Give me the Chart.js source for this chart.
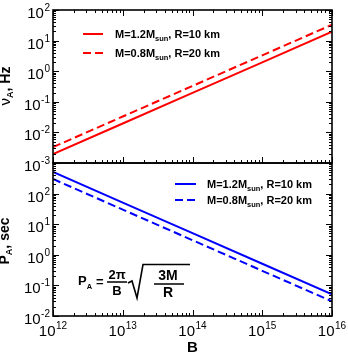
<!DOCTYPE html>
<html>
<head>
<meta charset="utf-8">
<script src="https://cdn.jsdelivr.net/npm/chart.js@4.4.0/dist/chart.umd.min.js"></script>
<style>
  html, body { margin: 0; padding: 0; background: #fff; }
  #wrap { position: relative; width: 348px; height: 354px; overflow: hidden; }
  canvas { position: absolute; left: 0; }
  #nuChart { top: 0; }
  #periodChart { top: 150px; }
</style>
</head>
<body>
<div id="wrap">
  <canvas id="nuChart" width="348" height="180"></canvas>
  <canvas id="periodChart" width="348" height="204"></canvas>
</div>
<script>
// --- data ---
const fieldB = [1e12, 1e13, 1e14, 1e15, 1e16];
const nuHeavy = [1.95e-3, 1.95e-2, 0.195, 1.95, 19.5];   // M=1.2 Msun, R=10 km
const nuLight = [3.3e-3, 3.3e-2, 0.33, 3.3, 33];         // M=0.8 Msun, R=20 km
const periodHeavy = [510, 51, 5.1, 0.51, 0.051];
const periodLight = [300, 30, 3.0, 0.30, 0.030];
const seriesLabels = ['M=1.2M_sun, R=10 km', 'M=0.8M_sun, R=20 km'];
const xTickExps = [12, 13, 14, 15, 16];
const nuTickExps = [-3, -2, -1, 0, 1, 2];
const periodTickExps = [-2, -1, 0, 1, 2];

const FONT = '"Liberation Sans", Arial, Helvetica, sans-serif';

// draw a run of text pieces, each {t, size, bold, dy}
function drawRich(ctx, parts, x, y) {
  let cx = x;
  for (const p of parts) {
    ctx.font = (p.bold ? 'bold ' : '') + p.size + 'px ' + FONT;
    ctx.fillText(p.t, cx, y + (p.dy || 0));
    cx += ctx.measureText(p.t).width + (p.gap || 0);
  }
  return cx - x;
}
function richWidth(ctx, parts) {
  let w = 0;
  for (const p of parts) {
    ctx.font = (p.bold ? 'bold ' : '') + p.size + 'px ' + FONT;
    w += ctx.measureText(p.t).width + (p.gap || 0);
  }
  return w;
}
function powParts(e) {
  return [{ t: '10', size: 15, gap: 0.5 }, { t: String(e), size: 10, dy: -7 }];
}
function labelParts(label, size) {
  const m = label.match(/^(.*)_(\w+)(.*)$/);
  return [
    { t: m[1], size: size, bold: true },
    { t: m[2], size: size * 0.68, bold: true, dy: 3 },
    { t: m[3], size: size, bold: true }
  ];
}

const axesPlugin = {
  id: 'panelAxes',
  afterDraw(chart, args, opts) {
    const ctx = chart.ctx;
    const { left, right, top, bottom } = chart.chartArea;
    const xs = chart.scales.x, ys = chart.scales.y;
    ctx.save();
    ctx.strokeStyle = '#000';
    ctx.fillStyle = '#000';

    // inward ticks
    ctx.lineWidth = 1;
    const logTicks = (scale) => {
      const lo = Math.round(Math.log10(scale.min)), hi = Math.round(Math.log10(scale.max));
      const out = [];
      for (let e = lo; e <= hi; e++) {
        out.push({ v: Math.pow(10, e), major: true });
        if (e < hi) for (let k = 2; k <= 9; k++) out.push({ v: k * Math.pow(10, e), major: false });
      }
      return out;
    };
    ctx.beginPath();
    for (const t of logTicks(xs)) {
      const px = Math.round(xs.getPixelForValue(t.v)) + 0.5;
      const len = t.major ? 6 : 3;
      ctx.moveTo(px, bottom); ctx.lineTo(px, bottom - len);
      if (opts.topTicks) { ctx.moveTo(px, top); ctx.lineTo(px, top + len); }
    }
    for (const t of logTicks(ys)) {
      const py = Math.round(ys.getPixelForValue(t.v)) + 0.5;
      const len = t.major ? 6 : 3;
      ctx.moveTo(left, py); ctx.lineTo(left + len, py);
      ctx.moveTo(right, py); ctx.lineTo(right - len, py);
    }
    ctx.stroke();

    // frame
    ctx.lineWidth = 1.6;
    ctx.strokeRect(left, top, right - left, bottom - top);

    // y tick labels
    ctx.textAlign = 'left';
    ctx.textBaseline = 'alphabetic';
    for (const e of opts.yExps) {
      const py = ys.getPixelForValue(Math.pow(10, e));
      const parts = powParts(e);
      drawRich(ctx, parts, 50 - richWidth(ctx, parts), py + 8);
    }
    // x tick labels
    if (opts.xExps) {
      for (const e of opts.xExps) {
        const px = xs.getPixelForValue(Math.pow(10, e));
        const parts = powParts(e);
        drawRich(ctx, parts, px - richWidth(ctx, parts) / 2, bottom + 20);
      }
      ctx.font = 'bold 15px ' + FONT;
      ctx.textAlign = 'center';
      ctx.fillText('B', (left + right) / 2, bottom + 36);
      ctx.textAlign = 'left';
    }

    // y title, rotated
    ctx.save();
    ctx.translate(opts.title.x, opts.title.y);
    ctx.rotate(-Math.PI / 2);
    const tw = richWidth(ctx, opts.title.parts);
    drawRich(ctx, opts.title.parts, -tw / 2, 0);
    ctx.restore();

    // legend
    const lg = opts.legend;
    chart.data.datasets.forEach((ds, i) => {
      const y = lg.y[i];
      ctx.save();
      ctx.strokeStyle = ds.borderColor;
      ctx.lineWidth = 2;
      ctx.setLineDash(ds.borderDash || []);
      ctx.beginPath();
      ctx.moveTo(lg.x, y); ctx.lineTo(lg.x + lg.w, y);
      ctx.stroke();
      ctx.restore();
      drawRich(ctx, labelParts(ds.label, 11), lg.tx, y + 4);
    });

    if (opts.formula) opts.formula(ctx);
    ctx.restore();
  }
};

function makeChart(id, series, yMin, yMax, padding, axesOpts) {
  return new Chart(document.getElementById(id), {
    type: 'line',
    data: {
      datasets: series.map(s => ({
        label: s.label,
        data: fieldB.map((b, i) => ({ x: b, y: s.values[i] })),
        borderColor: s.color,
        borderWidth: 2,
        borderDash: s.dash,
        pointRadius: 0,
        fill: false,
        tension: 0
      }))
    },
    options: {
      responsive: false,
      animation: false,
      devicePixelRatio: 1,
      layout: { padding: padding },
      plugins: { legend: { display: false }, tooltip: { enabled: false }, panelAxes: axesOpts },
      scales: {
        x: { type: 'logarithmic', min: 1e12, max: 1e16, display: false },
        y: { type: 'logarithmic', min: yMin, max: yMax, display: false }
      }
    },
    plugins: [axesPlugin]
  });
}

makeChart('nuChart', [
  { label: seriesLabels[0], values: nuHeavy, color: '#ff0000', dash: [] },
  { label: seriesLabels[1], values: nuLight, color: '#ff0000', dash: [8, 4] }
], 1e-3, 1e2, { left: 53, right: 16, top: 10, bottom: 17 }, {
  yExps: nuTickExps,
  topTicks: true,
  title: { x: 10, y: 86, parts: [{ t: 'ν', size: 15 }, { t: 'A', size: 9, bold: true, dy: 3 }, { t: ', Hz', size: 14, bold: true }] },
  legend: { x: 83, w: 20, tx: 115, y: [34, 53] }
});

// bottom canvas sits 150px down the page
makeChart('periodChart', [
  { label: seriesLabels[0], values: periodHeavy, color: '#0000ff', dash: [] },
  { label: seriesLabels[1], values: periodLight, color: '#0000ff', dash: [8, 4] }
], 1e-2, 1e3, { left: 53, right: 16, top: 13, bottom: 38 }, {
  yExps: periodTickExps,
  xExps: xTickExps,
  topTicks: false,
  title: { x: 9, y: 241 - 150, parts: [{ t: 'P', size: 14, bold: true }, { t: 'A', size: 9, bold: true, dy: 3 }, { t: ', sec', size: 14, bold: true }] },
  legend: { x: 175, w: 21, tx: 207, y: [184 - 150, 200 - 150] },
  formula(ctx) {
    const o = -150;
    ctx.fillStyle = '#000';
    ctx.strokeStyle = '#000';
    ctx.textAlign = 'left';
    drawRich(ctx, [{ t: 'P', size: 13, bold: true }, { t: 'A', size: 7.5, bold: true, dy: 3.5 }], 78, 285 + o);
    ctx.font = 'bold 13px ' + FONT;
    ctx.fillText('=', 96, 286 + o);
    ctx.textAlign = 'center';
    ctx.fillText('2π', 117, 279 + o);
    ctx.fillText('B', 117, 295 + o);
    ctx.font = 'bold 14px ' + FONT;
    ctx.fillText('3M', 168, 280 + o);
    ctx.fillText('R', 168, 297 + o);
    ctx.lineWidth = 1.3;
    ctx.beginPath();
    ctx.moveTo(107, 282 + o); ctx.lineTo(127, 282 + o);
    ctx.moveTo(154, 284 + o); ctx.lineTo(184, 284 + o);
    ctx.stroke();
    ctx.lineWidth = 1.6;
    ctx.beginPath();
    ctx.moveTo(128, 283 + o); ctx.lineTo(132, 281 + o); ctx.lineTo(137, 298 + o);
    ctx.lineTo(143, 264.5 + o); ctx.lineTo(190, 264.5 + o);
    ctx.stroke();
  }
});
</script>
</body>
</html>
